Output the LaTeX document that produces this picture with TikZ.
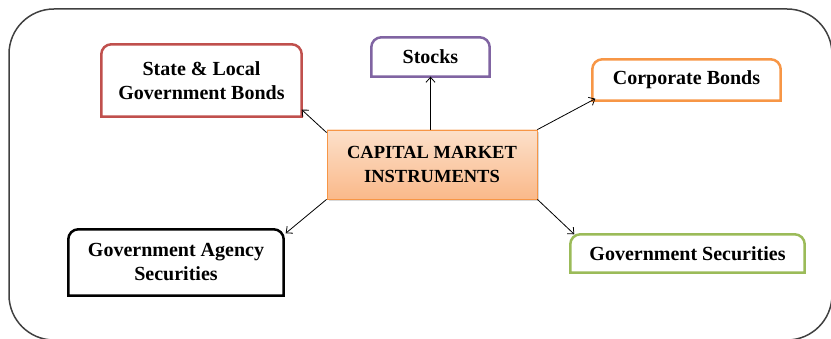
\documentclass[tikz,border=0pt]{standalone}
\usepackage{fontspec}
\setmainfont{Liberation Serif}
\usepackage{tikz}
\usetikzlibrary{arrows.meta,shadows}
\definecolor{slgred}{HTML}{C0504D}
\definecolor{stockpurple}{HTML}{8064A2}
\definecolor{corporange}{HTML}{F79646}
\definecolor{secgreen}{HTML}{9BBB59}
\definecolor{captop}{HTML}{FCE0CA}
\definecolor{capbottom}{HTML}{FAB98A}

\begin{document}
\begin{tikzpicture}[x=1pt,y=1pt,
	item/.style={inner sep=0pt, align=center, font=\fontsize{20}{24}\selectfont\bfseries},
	link/.style={-{Straight Barb[length=5pt,width=9pt]}, line width=0.8pt}]
				\clip (0,0) rectangle (831,339);
				
				% Outer frame
				\draw[line width=1.5pt, black!75, rounded corners=45pt] (9,-1) rectangle (832,330);
				
				% Centre box
				\node[item, font=\fontsize{18.5}{24.5}\selectfont\bfseries, draw=corporange, line width=0.8pt,
					top color=captop, bottom color=capbottom,
					drop shadow={opacity=0.3, shadow xshift=1.5pt, shadow yshift=-2.5pt},
					minimum width=210, minimum height=69] (cap) at (432,174.5) {CAPITAL MARKET\\INSTRUMENTS};
				
				% Surrounding boxes
				\node[item, minimum width=200, minimum height=72] (slg) at (201.5,258.5) {State \& Local\\Government Bonds};
				\node[item, minimum width=118, minimum height=39] (stocks) at (430.5,282) {Stocks};
				\node[item, minimum width=188, minimum height=41] (corp) at (686.5,259) {Corporate Bonds};
				\node[item, minimum width=215, minimum height=66] (gaa) at (176,76.5) {Government Agency\\Securities};
				\node[item, minimum width=234, minimum height=38] (gsec) at (687.5,85.5) {Government Securities};
				
				% Borders, rounded on top only
				\foreach \n/\c in {slg/slgred, stocks/stockpurple, corp/corporange, gaa/black, gsec/secgreen}
					\draw[line width=2.5pt, \c] (\n.south west) -- ([yshift=-10pt]\n.north west)
						arc[start angle=180, end angle=90, radius=10pt] -- ([xshift=-10pt]\n.north east)
						arc[start angle=90, end angle=0, radius=10pt] -- (\n.south east) -- cycle;
				
				% Arrows from the centre
				\draw[link] ([yshift=-3pt]cap.north west) -- ([yshift=7pt]slg.south east);
				\draw[link] (stocks.south |- cap.north) -- (stocks.south);
				\draw[link] (cap.north east) -- ([xshift=3pt,yshift=2pt]corp.south west);
				\draw[link] (cap.south west) -- ([xshift=2pt,yshift=-4pt]gaa.north east);
				\draw[link] (cap.south east) -- ([xshift=4pt]gsec.north west);
				
			\end{tikzpicture}
\end{document}
